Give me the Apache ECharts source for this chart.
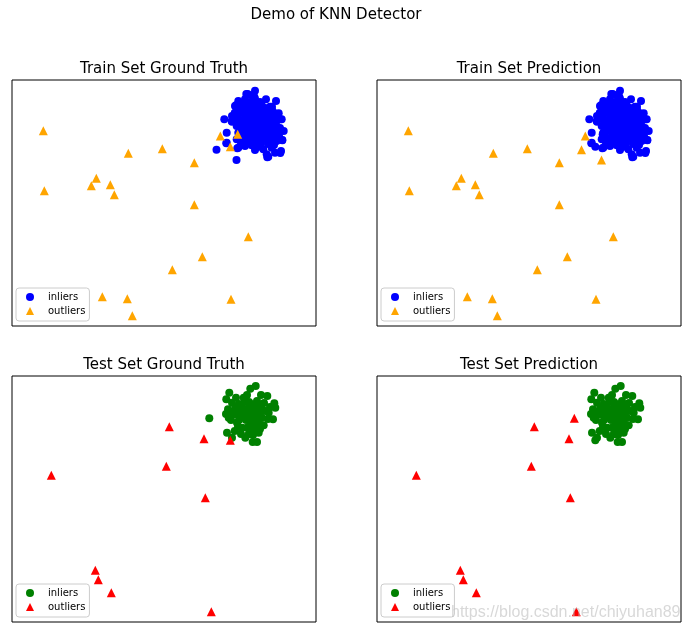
<!DOCTYPE html>
<html><head><meta charset="utf-8">
<script src="https://cdn.jsdelivr.net/npm/echarts@6/dist/echarts.min.js"></script>
<style>html,body{margin:0;padding:0;background:#fff}#c{width:687px;height:633px}</style>
</head><body><div id="c"></div><script>
// ---- data (axes hidden, arbitrary units x:0-304, y:0-246) ----
const suptitle = 'Demo of KNN Detector';
const panelTitles = ['Train Set Ground Truth', 'Train Set Prediction', 'Test Set Ground Truth', 'Test Set Prediction'];
const legendNames = ['inliers', 'outliers'];

// train: correctly classified inliers
const trainCoreInliers = [
  [243,235.3],[235.7,232],[239.7,230.7],[226.3,225],[233,226.7],[254,226.7],[264,225],[243,227.3],
  [223,220],[229.7,221.7],[236.3,221.7],[243,221.7],[249.7,220.7],[258,219.3],
  [223,213.3],[229.7,215],[236.3,216],[243,215],[249.7,215],[256.3,214],[263,212.7],
  [212.3,206.7],[219.7,205],[226.3,206.7],[233,208.3],[239.7,207.3],[246.3,208.3],[253,206.7],[259.7,208.3],[266.3,206.7],[269.7,206.7],
  [224.7,200],[231.3,201.7],[238,200.7],[244.7,201.7],[251.3,200],[258,201.7],[264.7,200],
  [226.3,193.3],[233,195],[239.7,193.3],[246.3,195],[253,193.3],[259.7,194],[266.3,193.3],[271.7,195],[214.7,193.3],
  [224.7,186.7],[231.3,186.7],[238,188.3],[244.7,186.7],[251.3,187.3],[258,186.7],[264.7,185],[270.3,186],[214.7,183.3],
  [226.3,178.3],[233,180],[239.7,180.7],[246.3,179.3],[251.3,176.7],[259.7,178.3],
  [243,176],[254.7,171.7],[256.3,169.3],[269,175],[263,173.3],
  [220,204.3],[222.7,212.7],[224.3,221],[234.3,232],[242.3,229.3],[260,219.3],[266.7,212.7],[268.3,206.7],
  [270.3,185.7],[268.3,173],[255.3,168.7],[214.3,182.7],[225.3,177.7],[233.3,182.7],
  [238,224],[248,224],[226,218],[233,218],[240,218],[246,218],[253,218],[260,216],
  [220,210],[226,211],[233,211],[240,211],[246,211],[253,211],[260,211],[266,210],
  [229,204],[236,204],[242,204],[249,204],[256,204],[262,204],
  [229,197],[236,197],[242,197],[249,197],[256,197],[262,197],[268,198],
  [228,190],[235,190],[242,190],[248,190],[255,190],[261,190],[267,190],
  [229,183],[236,183],[243,183],[249,183],[256,182],[262,181]
];
// train: correctly classified outliers
const trainCoreOutliers = [
  [31.3,195.3],[32.3,135.3],[84.3,147.7],[79.3,140.3],[98.3,141.3],[102.3,131.3],[116.3,172.7],[150.3,177.3],
  [182.3,163.3],[182.3,121.3],[236.3,89.3],[190.3,69.3],[160.3,56.3],[90.3,29.3],[115.3,27.3],[120.3,10.3],
  [219,26.7],[208.3,190]
];
// train: true outliers predicted as inliers
const trainMissed = [[225.7,191.7],[218.3,179.3]];
// train: true inliers predicted as outliers
const trainFalseAlarm = [[204.5,176.2],[224.5,166]];

// test: correctly classified inliers
const testCoreInliers = [
  [243.7,236],[238.3,233.3],[217.3,229.3],[255.3,226],[214.3,222.7],[224,224.3],[231.7,224.3],[245,221],
  [262.3,218.7],[263.3,214.3],[216,212.7],[214,208],[223.3,214.3],[230,216],[236.7,214.3],[243.3,212.7],[250,212.7],
  [256.7,209.3],[253.3,211],[216.7,204.3],[223.3,207.7],[230,206],[236.7,207.7],[243.3,206],[250,204.3],
  [261,202.7],[230,194.3],[238.3,199.3],[245,199.3],[251.7,196.7],[222.7,191],[215,189.3],[220,184.3],
  [233.3,184.3],[236.7,187.7],[246.7,189.3],[240.7,180],[245,180],[235,194.3],[240,192.7],[225,199.3],
  [220,219.3],[233.3,221],[240,217.7],[248.3,216.7],
  [235,227],[249,227],[227,218],[237,220],[244,217],[252,219],[258,215],
  [220,210],[227,211],[233,211],[240,210],[247,209],
  [219,202],[227,202],[234,202],[240,203],[247,202],[256,203],
  [226,195],[243,194],[248,193],[229,188],[241,187]
];
// test: correctly classified outliers
const testCoreOutliers = [
  [157.3,195.3],[192,183.3],[154.3,155.7],[39.3,146.7],[193.3,124.3],[83.3,51.7],[86.3,42.3],[99.3,29.3],[199.3,10.3]
];
const testMissed = [[218.3,181.7]];
const testFalseAlarm = [[197.3,203.7]];

// ---- build ----
const panels = [
  {inl: trainCoreInliers.concat(trainFalseAlarm), out: trainCoreOutliers.concat(trainMissed), ci: '#0000ff', co: '#ffa500', left: 12, top: 80},
  {inl: trainCoreInliers.concat(trainMissed), out: trainCoreOutliers.concat(trainFalseAlarm), ci: '#0000ff', co: '#ffa500', left: 377, top: 80},
  {inl: testCoreInliers.concat(testFalseAlarm), out: testCoreOutliers.concat(testMissed), ci: '#008000', co: '#ff0000', left: 12, top: 376},
  {inl: testCoreInliers.concat(testMissed), out: testCoreOutliers.concat(testFalseAlarm), ci: '#008000', co: '#ff0000', left: 377, top: 376}
];
const W = 304, H = 246;
const FONT = 'DejaVu Sans';

const option = {
  animation: false,
  backgroundColor: '#ffffff',
  title: [{
    text: suptitle, left: 336, top: 7.5, textAlign: 'center', padding: 0,
    textStyle: {fontFamily: FONT, fontSize: 15, fontWeight: 'normal', color: '#000'}
  }].concat(panels.map((p, i) => ({
    text: panelTitles[i], left: p.left + W / 2, top: p.top - 18.5, textAlign: 'center', padding: 0,
    textStyle: {fontFamily: FONT, fontSize: 15, fontWeight: 'normal', color: '#000'}
  }))),
  grid: panels.map(p => ({
    left: p.left, top: p.top, width: W, height: H, show: true,
    borderColor: '#000', borderWidth: 1, backgroundColor: 'transparent',
    containLabel: false, outerBoundsMode: 'none'
  })),
  xAxis: panels.map((p, i) => ({type: 'value', gridIndex: i, min: 0, max: W, show: false})),
  yAxis: panels.map((p, i) => ({type: 'value', gridIndex: i, min: 0, max: H, show: false})),
  legend: panels.map(p => ({
    orient: 'vertical', left: p.left + 4, top: p.top + 208,
    padding: [4, 4, 5, 10], itemWidth: 8, itemHeight: 8, itemGap: 4,
    borderColor: '#cccccc', borderWidth: 1, borderRadius: 3, backgroundColor: 'rgba(255,255,255,0.8)',
    selectedMode: false,
    textStyle: {fontFamily: FONT, fontSize: 10, color: '#000', padding: [0, 0, 0, 9]},
    data: [
      {name: legendNames[0], icon: 'circle', itemStyle: {color: p.ci}},
      {name: legendNames[1], icon: 'triangle', itemStyle: {color: p.co}}
    ]
  })),
  series: panels.flatMap((p, i) => [
    {type: 'scatter', name: legendNames[0], xAxisIndex: i, yAxisIndex: i, data: p.inl,
     symbol: 'circle', symbolSize: 8, itemStyle: {color: p.ci, opacity: 1}, emphasis: {disabled: true}},
    {type: 'scatter', name: legendNames[1], xAxisIndex: i, yAxisIndex: i, data: p.out,
     symbol: 'triangle', symbolSize: 9, itemStyle: {color: p.co, opacity: 1}, emphasis: {disabled: true}}
  ]),
  graphic: [{
    type: 'text', left: 451, top: 605, silent: true, z: 100,
    style: {text: 'https://blog.csdn.net/chiyuhan89', font: '16px "Liberation Sans"', fill: 'rgba(190,190,190,0.6)'}
  }]
};
const chart = echarts.init(document.getElementById('c'), null, {renderer: 'canvas'});
chart.setOption(option);
</script></body></html>
